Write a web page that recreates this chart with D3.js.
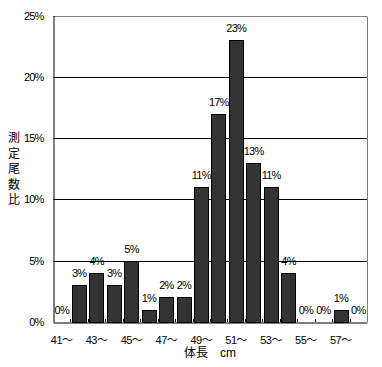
<!DOCTYPE html>
<html>
<head>
<meta charset="utf-8">
<script src="https://cdn.jsdelivr.net/npm/d3@7"></script>
<style>
  body { margin: 0; background: #fff; }
  text { font-family: "Liberation Sans", "Noto Sans CJK JP", sans-serif; font-size: 11px; fill: #000; }
</style>
</head>
<body>
<div id="chart"></div>
<script>
// 体長階級 (cm)
var categories = [41, 42, 43, 44, 45, 46, 47, 48, 49, 50, 51, 52, 53, 54, 55, 56, 57, 58];
// 測定尾数比 (%)
var values = [0, 3, 4, 3, 5, 1, 2, 2, 11, 17, 23, 13, 11, 4, 0, 0, 1, 0];
var yTicks = [0, 5, 10, 15, 20, 25];
var xTickCats = [41, 43, 45, 47, 49, 51, 53, 55, 57];
var xTitle = "体長\u3000cm";
var yTitle = ["測", "定", "尾", "数", "比"];

var W = 382, H = 367;
// plot area edges
var pLeft = 53, pRight = 367, pTop = 15.5, pBottom = 322;

var svg = d3.select("#chart").append("svg")
    .attr("width", W)
    .attr("height", H);

var x = d3.scaleBand()
    .domain(categories)
    .range([pLeft, pRight])
    .paddingInner(0.17)
    .paddingOuter(0.085);

var y = d3.scaleLinear()
    .domain([0, 25])
    .range([pBottom, pTop]);

// grid lines
svg.append("g").selectAll("line")
    .data(yTicks.filter(function (d) { return d > 0; }))
    .enter().append("line")
    .attr("x1", pLeft).attr("x2", pRight)
    .attr("y1", function (d) { return Math.round(y(d)) + 0.5; })
    .attr("y2", function (d) { return Math.round(y(d)) + 0.5; })
    .attr("stroke", function (d) { return d === 25 ? "#808080" : "#000"; })
    .attr("stroke-width", 1);

// right border
svg.append("line")
    .attr("x1", pRight + 0.5).attr("x2", pRight + 0.5)
    .attr("y1", Math.round(y(25)) + 0.5).attr("y2", pBottom)
    .attr("stroke", "#808080");

// bars
svg.append("g").selectAll("rect")
    .data(values)
    .enter().append("rect")
    .attr("x", function (d, i) { return Math.round(x(categories[i])) + 0.5; })
    .attr("width", Math.round(x.bandwidth()))
    .attr("y", function (d) { return Math.round(y(d)) + 0.5; })
    .attr("height", function (d) { return Math.round(y(0)) - Math.round(y(d)); })
    .attr("fill", "#333333")
    .attr("stroke", "#000")
    .attr("stroke-width", 1)
    .style("display", function (d) { return d > 0 ? null : "none"; });

// bar labels
svg.append("g").selectAll("text")
    .data(values)
    .enter().append("text")
    .attr("x", function (d, i) { return x(categories[i]) + x.bandwidth() / 2; })
    .attr("y", function (d) { return y(d) - 8; })
    .attr("text-anchor", "middle")
    .style("letter-spacing", "-0.8px")
    .text(function (d) { return d + "%"; });

// y axis
var yAxis = svg.append("g")
    .attr("transform", "translate(" + (pLeft + 0.5) + ",0)")
    .call(d3.axisLeft(y).tickValues(yTicks).tickSize(0).tickPadding(10)
        .tickFormat(function (d) { return d + "%"; }));
yAxis.select(".domain").attr("stroke", "#000");
yAxis.selectAll("text").style("font-size", "11px").style("letter-spacing", "-0.8px")
    .style("font-family", "Liberation Sans, Noto Sans CJK JP, sans-serif");

// x axis
var xAxis = svg.append("g")
    .attr("transform", "translate(0," + (Math.round(pBottom) + 0.5) + ")")
    .call(d3.axisBottom(x).tickValues(xTickCats).tickSize(0).tickPadding(14)
        .tickFormat(function (d) { return d + "～"; }));
xAxis.select(".domain").attr("stroke", "#000");
xAxis.selectAll("text").style("font-size", "11px").style("letter-spacing", "-0.5px")
    .style("font-family", "Liberation Sans, Noto Sans CJK JP, sans-serif");

// small ticks at category boundaries
svg.append("g").selectAll("line")
    .data(categories.slice(1))
    .enter().append("line")
    .attr("x1", function (d) { return Math.round(x(d) - x.step() * x.paddingInner() / 2) + 0.5; })
    .attr("x2", function (d) { return Math.round(x(d) - x.step() * x.paddingInner() / 2) + 0.5; })
    .attr("y1", pBottom).attr("y2", pBottom - 3)
    .attr("stroke", "#000");

// axis titles
svg.append("text")
    .attr("x", (pLeft + pRight) / 2)
    .attr("y", 357)
    .attr("text-anchor", "middle")
    .style("font-size", "12px")
    .text(xTitle);

svg.append("g").selectAll("text")
    .data(yTitle)
    .enter().append("text")
    .attr("x", 14)
    .attr("y", function (d, i) { return 142 + i * 15.6; })
    .attr("text-anchor", "middle")
    .style("font-size", "12px")
    .text(function (d) { return d; });
</script>
</body>
</html>
